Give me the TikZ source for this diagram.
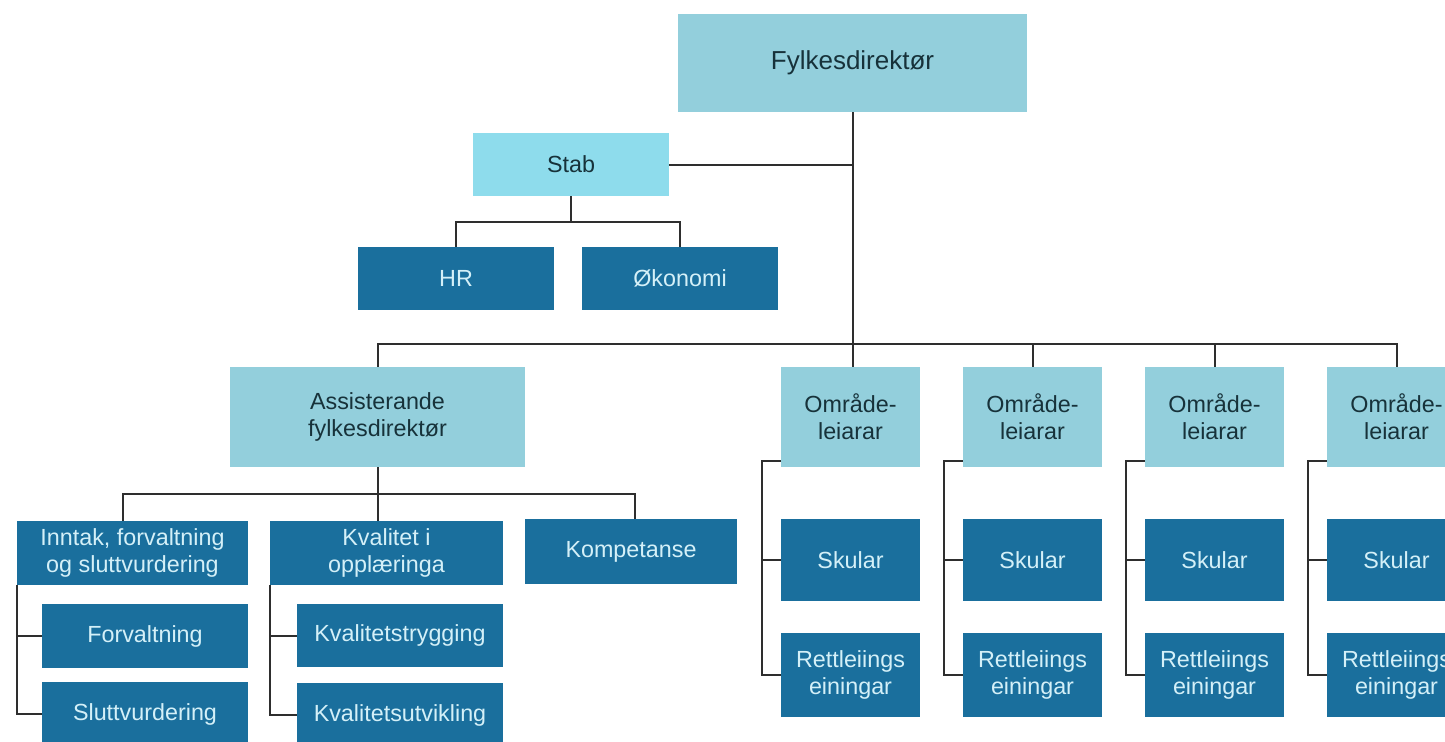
\documentclass[tikz,border=0pt]{standalone}
\usepackage{fontspec}
\setmainfont{Liberation Sans}

\definecolor{boxlight}{HTML}{93CFDC}
\definecolor{boxstab}{HTML}{8EDCEC}
\definecolor{boxdark}{HTML}{1A6F9D}
\definecolor{textlight}{HTML}{D4F0F8}
\definecolor{textdark}{HTML}{17323A}
\definecolor{linegray}{HTML}{2E2E2E}

\def\pxu{0.75pt}

\tikzset{
    orgbox/.style={rectangle, inner sep=0pt, align=center, font=\fontsize{17.5}{20}\selectfont},
    lightbox/.style={orgbox, fill=boxlight, text=textdark},
    stabbox/.style={orgbox, fill=boxstab, text=textdark},
    darkbox/.style={orgbox, fill=boxdark, text=textlight},
    link/.style={draw=linegray, line width=1.5pt}
}

\begin{document}
\begin{tikzpicture}[x=0.75pt, y=-0.75pt]

    \useasboundingbox (0,0) rectangle (1445,742);
    \fill[white] (0,0) rectangle (1445,742);
    \clip (0,0) rectangle (1445,742);

    % top and staff
    \node[lightbox, font=\fontsize{19.5}{22}\selectfont, minimum width=349*\pxu, minimum height=98*\pxu] (fd) at (852.5,63) {Fylkesdirektør};
    \node[stabbox, minimum width=196*\pxu, minimum height=63*\pxu] (stab) at (571,164.5) {Stab};
    \node[darkbox, minimum width=196*\pxu, minimum height=63*\pxu] (hr) at (456,278.5) {HR};
    \node[darkbox, minimum width=196*\pxu, minimum height=63*\pxu] (oko) at (680,278.5) {Økonomi};

    % assistant director branch
    \node[lightbox, minimum width=295*\pxu, minimum height=100*\pxu] (ass) at (377.5,417) {Assisterande\\fylkesdirektør};

    \node[darkbox, minimum width=231*\pxu, minimum height=64*\pxu] (inn) at (132.5,553) {Inntak, forvaltning\\og sluttvurdering};
    \node[darkbox, minimum width=233*\pxu, minimum height=64*\pxu] (kval) at (386.5,553) {Kvalitet i\\opplæringa};
    \node[darkbox, minimum width=212*\pxu, minimum height=65*\pxu] (komp) at (631,551.5) {Kompetanse};

    \node[darkbox, minimum width=206*\pxu, minimum height=64*\pxu] (forv) at (145,636) {Forvaltning};
    \node[darkbox, minimum width=206*\pxu, minimum height=64*\pxu] (slutt) at (145,714) {Sluttvurdering};
    \node[darkbox, minimum width=206*\pxu, minimum height=63*\pxu] (ktr) at (400,635.5) {Kvalitetstrygging};
    \node[darkbox, minimum width=206*\pxu, minimum height=64*\pxu] (kut) at (400,715) {Kvalitetsutvikling};

    % area columns
    \foreach \i/\x in {1/850.5, 2/1032.5, 3/1214.5, 4/1396.5} {
        \node[lightbox, minimum width=139*\pxu, minimum height=100*\pxu] (omr\i) at (\x,417) {Område-\\leiarar};
        \node[darkbox, minimum width=139*\pxu, minimum height=82*\pxu] (skul\i) at (\x,560) {Skular};
        \node[darkbox, minimum width=139*\pxu, minimum height=84*\pxu] (rett\i) at (\x,675) {Rettleiings\\einingar};

        \draw[link] ([yshift=4.5pt]omr\i.south west) -- ++(-19,0) |- (rett\i.west);
        \draw[link] (skul\i.west) -- ++(-19,0);
    }

    \coordinate (stabbus) at (0,222);
    \coordinate (mainbus) at (0,344);
    \coordinate (assbus) at (0,494);
    \coordinate (inntop) at ([xshift=-7pt]inn.north);
    \coordinate (komptop) at ([xshift=3pt]komp.north);

    % connectors
    \draw[link] (fd.south) -- (fd.south |- omr1.north);
    \draw[link] (stab.east) -- (stab.east -| fd.south);
    \draw[link] (stab.south) -- (stab.south |- stabbus);
    \draw[link] (hr.north) -- (hr.north |- stabbus) -- (oko.north |- stabbus) -- (oko.north);

    \draw[link] (ass.north) -- (ass.north |- mainbus) -- (omr4.north |- mainbus) -- (omr4.north);
    \draw[link] (omr2.north) -- (omr2.north |- mainbus);
    \draw[link] (omr3.north) -- (omr3.north |- mainbus);

    \draw[link] (ass.south) -- (ass.south |- kval.north);
    \draw[link] (inntop) -- (inntop |- assbus) -- (komptop |- assbus) -- (komptop);

    \draw[link] (inn.south west) |- (slutt.west);
    \draw[link] (forv.west) -- (forv.west -| inn.south west);
    \draw[link] (kval.south west) |- (kut.west);
    \draw[link] (ktr.west) -- (ktr.west -| kval.south west);

\end{tikzpicture}
\end{document}
